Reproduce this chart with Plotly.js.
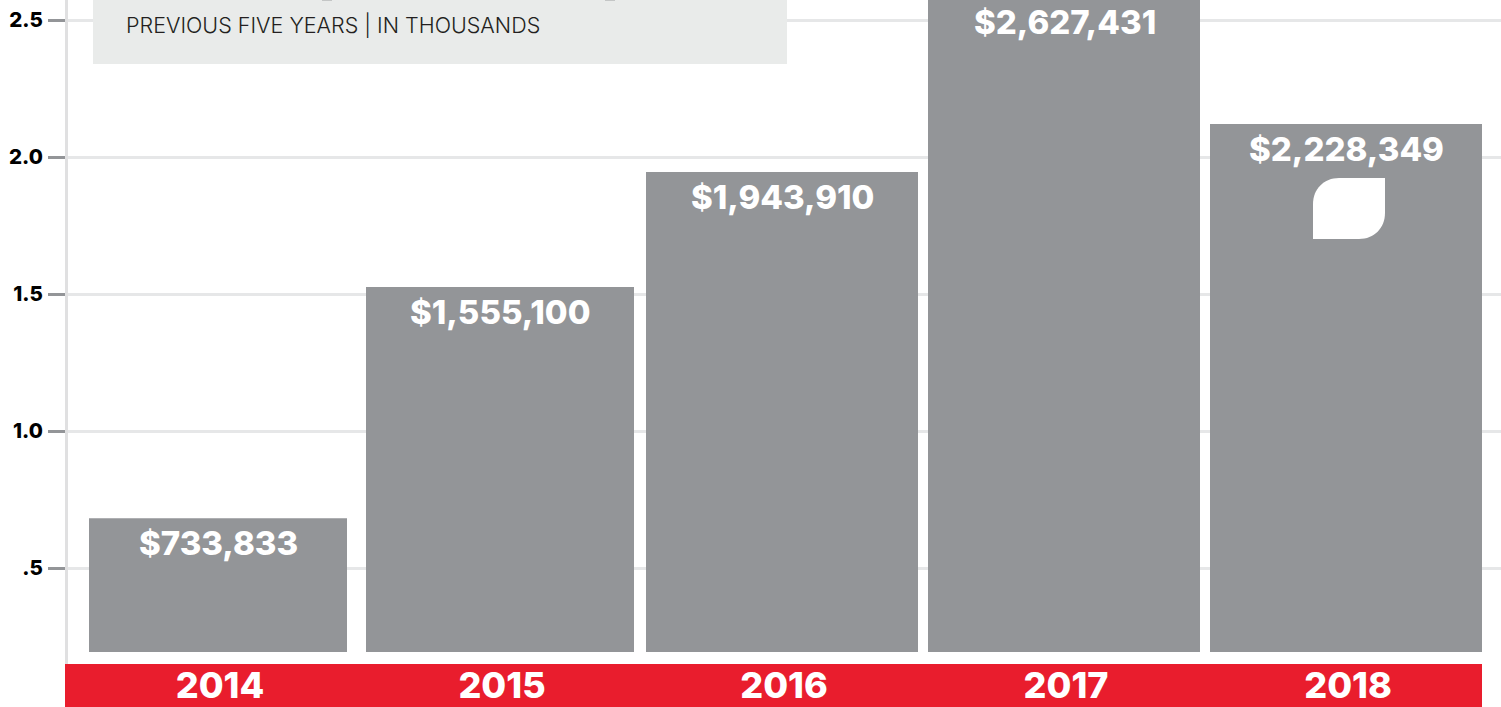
<!DOCTYPE html>
<html>
<head>
<meta charset="utf-8">
<script src="https://cdn.plot.ly/plotly-3.0.1.min.js"></script>
<style>html,body{margin:0;padding:0;background:#fff;overflow:hidden}</style>
</head>
<body>
<div id="chart" style="width:1501px;height:707px"></div>
<script>
const years = ['2014', '2015', '2016', '2017', '2018'];
const barValues = [0.682, 1.526, 1.945, 2.584, 2.120];
const barLabels = ['$733,833', '$1,555,100', '$1,943,910', '$2,627,431', '$2,228,349'];
const barCenters = [218, 500, 782, 1064, 1346];
const barWidths = [258, 268, 272, 272, 272];
const barBase = 0.193;
const yTickVals = [0.5, 1.0, 1.5, 2.0, 2.5];
const yTickText = ['.5', '1.0', '1.5', '2.0', '2.5'];
const subtitle = 'PREVIOUS FIVE YEARS | IN THOUSANDS';

const FONT = 'Inter, "Open Sans", sans-serif';
const py = p => (705 - p) / 274;

const data = [{
  type: 'bar',
  x: barCenters,
  y: barValues.map(v => v - barBase),
  base: barBase,
  width: barWidths,
  marker: {color: '#939598', line: {width: 0}},
  hoverinfo: 'skip'
}];

const annotations = barLabels.map((t, i) => ({
  x: barCenters[i] + 0.5, y: barValues[i] - 25 / 274, xref: 'x', yref: 'y',
  text: t, showarrow: false, xanchor: 'center', yanchor: 'middle',
  font: {family: FONT, size: 33, color: '#ffffff', weight: 800}
}));
annotations.push({
  x: 124, y: py(25), xref: 'x', yref: 'y', text: subtitle, showarrow: false,
  xanchor: 'left', yanchor: 'middle',
  font: {family: FONT, size: 21.5, color: '#231f20', weight: 300}
});

const layout = {
  width: 1501, height: 707,
  margin: {l: 68, r: 0, t: 0, b: 43, pad: 0},
  paper_bgcolor: '#ffffff', plot_bgcolor: '#ffffff',
  showlegend: false,
  xaxis: {
    range: [68, 1501], tickvals: barCenters.map(c => c + 2), ticktext: years,
    showgrid: false, zeroline: false, showline: false, ticks: '',
    tickfont: {family: FONT, size: 36, color: '#ffffff', weight: 800},
    ticklabelstandoff: -3, fixedrange: true
  },
  yaxis: {
    range: [py(664), py(0)], tickvals: yTickVals, ticktext: yTickText,
    showgrid: true, gridcolor: '#e6e7e8', gridwidth: 3, zeroline: false,
    showline: true, linecolor: '#e0e0e1', linewidth: 3,
    ticks: 'outside', ticklen: 17, tickwidth: 3, tickcolor: '#939598',
    tickfont: {family: FONT, size: 20.5, color: '#000000', weight: 800},
    ticklabelstandoff: 1,
    fixedrange: true
  },
  shapes: [
    {type: 'rect', xref: 'x', yref: 'y', x0: 93, x1: 787, y0: py(64), y1: py(-5),
     fillcolor: '#e9ebea', line: {width: 0}, layer: 'above'},
    {type: 'rect', xref: 'x', yref: 'y', x0: 322, x1: 332, y0: py(1), y1: py(-3),
     fillcolor: '#c4c6c6', line: {width: 0}, layer: 'above'},
    {type: 'rect', xref: 'x', yref: 'y', x0: 605, x1: 615, y0: py(1), y1: py(-3),
     fillcolor: '#c4c6c6', line: {width: 0}, layer: 'above'},
    {type: 'rect', xref: 'paper', yref: 'paper', x0: -3 / 1433, x1: 1414 / 1433, y0: -43 / 664, y1: 0,
     fillcolor: '#e91d2d', line: {width: 0}, layer: 'below'},
    {type: 'path', xref: 'x', yref: 'y', layer: 'above', fillcolor: '#ffffff', line: {width: 0},
     path: `M1313,${py(239)} L1313,${py(204)} C1313,${py(189)} 1324,${py(178)} 1339,${py(178)} L1385,${py(178)} L1385,${py(213)} C1385,${py(228)} 1374,${py(239)} 1359,${py(239)} Z`}
  ],
  annotations: annotations
};

Plotly.newPlot('chart', data, layout, {displayModeBar: false, staticPlot: true});
</script>
</body>
</html>
